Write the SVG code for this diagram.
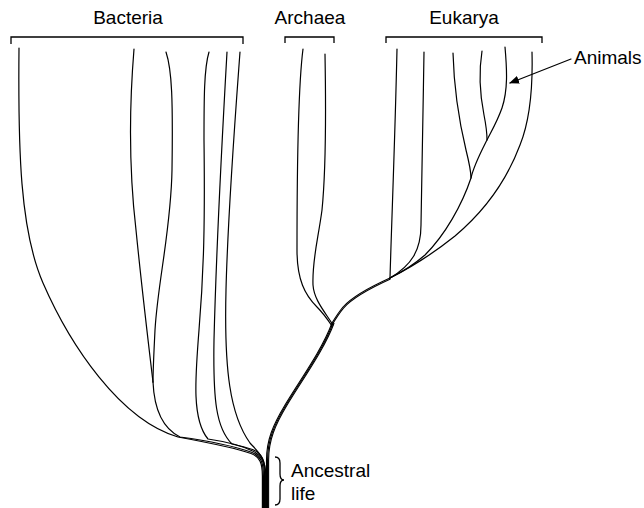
<svg xmlns="http://www.w3.org/2000/svg" width="644" height="508" viewBox="0 0 644 508">
<style>
.lbl{font-family:"Liberation Sans",Arial,sans-serif;font-size:19px;fill:#000}
.br{fill:none;stroke:#000;stroke-width:1.3}
.tip{fill:none;stroke:#000;stroke-width:1.2;stroke-linecap:round}
.tr{fill:none;stroke:#000;stroke-width:1.1}
</style>
<defs>
<marker id="ah" viewBox="0 0 10 8" refX="9" refY="4" markerWidth="10" markerHeight="8" markerUnits="userSpaceOnUse" orient="auto"><path d="M0,0 L10,4 L0,8 z" fill="#000"/></marker>
<path id="eukTrunk" d="M390,278 C370,287 352,297 343,307 C338,313 335,318 332,323"/>
<path id="lowTrunk" d="M332,323 C322,350 300,380 285,405 C273,425 266.5,440 266.5,460 L266.5,508"/>
</defs>
<rect width="644" height="508" fill="#fff"/>

<g id="bacteria">
<path class="br" d="M11,44 L11,37 L243,37 L243,44"/>
<text class="lbl" x="128" y="24" text-anchor="middle">Bacteria</text>
</g>
<g id="archaea">
<path class="br" d="M285,43 L285,37 L334,37 L334,43"/>
<text class="lbl" x="310" y="24" text-anchor="middle">Archaea</text>
</g>
<g id="eukarya">
<path class="br" d="M386,43 L386,37 L542,37 L542,43"/>
<text class="lbl" x="464" y="24" text-anchor="middle">Eukarya</text>
</g>
<g id="animals">
<text class="lbl" x="574" y="64">Animals</text>
</g>
<g id="ancestral-life">
<path class="br" d="M275,457 C279,457 280,459 280,463 L280,474 C280,478 281,480 284,480 C281,480 280,482 280,486 L280,499 C280,503 279,505 275,505"/>
<text class="lbl" x="291" y="477">Ancestral</text>
<text class="lbl" x="291" y="500">life</text>
</g>

<g id="connectors">
<!-- Bacteria lineages -->
<path class="tip" d="M19,48 C18,150 20,230 43,283 C70,345 120,420 178,437 C205,442 236,448 251,453.5 C260,457 262.4,463 262.4,476 L262.4,508"/>
<path class="tip" d="M134,49 C129,110 129,170 136,230 C142,290 148,340 153,382"/>
<path class="tip" d="M166,52 C172,70 173,100 172,170 C171,230 158,280 155,330 C154,350 153,370 153,382"/>
<path class="tip" d="M153,382 C154,405 160,427 180,437 C206,440.5 236,446.8 251.5,452.3 C260.8,456 263.4,462 263.4,476 L263.4,508"/>
<path class="tip" d="M209,52 C204,68 204,100 204,140 C205,220 204,270 199,330 C195,380 192,420 208,439 C225,441.5 240,445 252,450.8 C261.5,455 264.5,461 264.5,476 L264.5,508"/>
<path class="tip" d="M227,52 C222,140 216,260 214,340 C213,400 216,428 232,444 C240,445.8 246,447.3 252.5,449.5 C262,453.5 265.3,460 265.3,476 L265.3,508"/>
<path class="tip" d="M240,52 C235,120 228,210 226,290 C224,370 230,415 250,443 C256,450 265.8,456 265.8,476 L265.8,508"/>
<!-- Archaea lineages -->
<path class="tip" d="M303,49 C299,80 297,150 297,250 C297,280 305,295 317,307 C324,314 328,320 332,326"/>
<path class="tip" d="M325,54 C326,110 326,170 322,210 C318,240 312,260 313,285 C314,300 325,312 333,325"/>
<!-- Eukarya lineages -->
<path class="tip" d="M397,49 C395,140 392,210 390,278"/>
<path class="tip" d="M424,52 C423,120 421,200 421,225 C421,250 412,265 390,278"/>
<path class="tip" d="M453,53 C454,90 460,125 466,150 C469,162 471,170 471,178"/>
<path class="tip" d="M482,51 C479,70 480,95 484,115 C486,125 487,133 487,140"/>
<path class="tip" d="M505,47 C507,70 508,90 502,108 C497,122 491,132 487,140 C482,150 474,165 471,178 C462,205 445,235 425,255 C410,268 398,274 390,278"/>
<path class="tip" d="M532,52 C533,90 530,120 520,145 C505,185 480,215 455,236 C430,256 410,268 390,278"/>
<!-- shared trunk -->
<use href="#eukTrunk" class="tr"/>
<use href="#eukTrunk" class="tr" transform="translate(0.5,1.1)"/>
<use href="#lowTrunk" class="tr"/>
<use href="#lowTrunk" class="tr" transform="translate(1.05,0)"/>
<use href="#lowTrunk" class="tr" transform="translate(2.1,0)"/>
<!-- Animals pointer -->
<path class="tip" d="M571,59 L510,83" marker-end="url(#ah)"/>
</g>
</svg>
